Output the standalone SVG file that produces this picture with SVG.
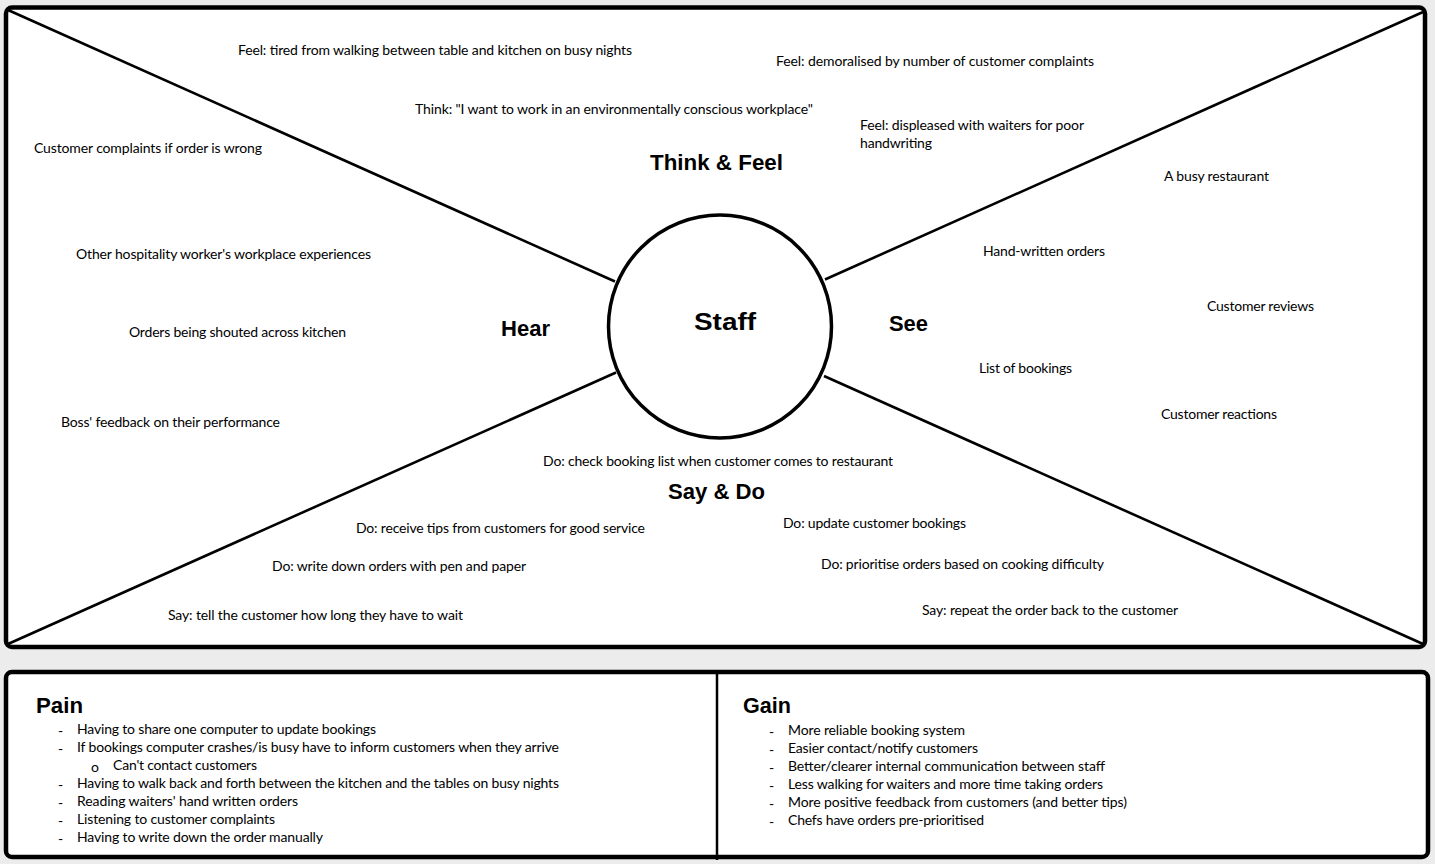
<svg xmlns="http://www.w3.org/2000/svg" width="1435" height="864" viewBox="0 0 1435 864">
  <style>
    .panel { fill: #ffffff; stroke: #000000; stroke-width: 4.5; }
    .spoke { stroke: #000000; stroke-width: 2.6; fill: none; }
    .hub { fill: #ffffff; stroke: #000000; stroke-width: 3.5; }
    .note { font-family: Lato, "Open Sans", sans-serif; font-size: 14px; fill: #000000; }
    .head { font-family: "Liberation Sans", Arial, sans-serif; font-size: 22px; font-weight: bold; fill: #000000; }
    .hubtitle { font-family: "Liberation Sans", Arial, sans-serif; font-size: 24px; font-weight: bold; fill: #000000; }
    .dash { font-family: Lato, sans-serif; font-size: 14px; fill: #000000; }
  </style>

  <!-- page background -->
  <rect x="0" y="0" width="1435" height="864" fill="#ececec"/>

  <!-- empathy map frame -->
  <g id="map-frame">
    <rect class="panel" x="6" y="7.5" width="1419" height="639.5" rx="6" ry="6"/>
  </g>

  <!-- spokes from the corners to the hub -->
  <g id="connectors">
    <line class="spoke" x1="8" y1="10" x2="615" y2="281.5"/>
    <line class="spoke" x1="1423" y1="12" x2="825" y2="279.5"/>
    <line class="spoke" x1="8" y1="644" x2="616" y2="372.5"/>
    <line class="spoke" x1="1423" y1="644" x2="824" y2="376"/>
  </g>

  <!-- hub -->
  <g id="staff">
    <circle class="hub" cx="720" cy="326.5" r="111.5"/>
    <text class="hubtitle" x="694" y="329.5" textLength="62" lengthAdjust="spacingAndGlyphs">Staff</text>
  </g>

  <!-- Think & Feel quadrant -->
  <g id="think-feel">
    <text class="head" x="650" y="170" textLength="133" lengthAdjust="spacingAndGlyphs">Think &amp; Feel</text>
    <text class="note" x="238" y="55" textLength="394">Feel: tired from walking between table and kitchen on busy nights</text>
    <text class="note" x="776" y="66" textLength="318">Feel: demoralised by number of customer complaints</text>
    <text class="note" x="415" y="114" textLength="398">Think: "I want to work in an environmentally conscious workplace"</text>
    <text class="note" x="860" y="130" textLength="224">Feel: displeased with waiters for poor</text>
    <text class="note" x="860" y="148" textLength="72">handwriting</text>
  </g>

  <!-- Hear quadrant -->
  <g id="hear">
    <text class="head" x="501" y="336" textLength="49" lengthAdjust="spacingAndGlyphs">Hear</text>
    <text class="note" x="34" y="153" textLength="228">Customer complaints if order is wrong</text>
    <text class="note" x="76" y="259" textLength="295">Other hospitality worker's workplace experiences</text>
    <text class="note" x="129" y="337" textLength="217">Orders being shouted across kitchen</text>
    <text class="note" x="61" y="427" textLength="219">Boss' feedback on their performance</text>
  </g>

  <!-- See quadrant -->
  <g id="see">
    <text class="head" x="889" y="331" textLength="39" lengthAdjust="spacingAndGlyphs">See</text>
    <text class="note" x="1164" y="181" textLength="105">A busy restaurant</text>
    <text class="note" x="983" y="256" textLength="122">Hand-written orders</text>
    <text class="note" x="1207" y="311" textLength="107">Customer reviews</text>
    <text class="note" x="979" y="373" textLength="93">List of bookings</text>
    <text class="note" x="1161" y="419" textLength="116">Customer reactions</text>
  </g>

  <!-- Say & Do quadrant -->
  <g id="say-do">
    <text class="head" x="668" y="499" textLength="97" lengthAdjust="spacingAndGlyphs">Say &amp; Do</text>
    <text class="note" x="543" y="466" textLength="350">Do: check booking list when customer comes to restaurant</text>
    <text class="note" x="356" y="533" textLength="289">Do: receive tips from customers for good service</text>
    <text class="note" x="783" y="528" textLength="183">Do: update customer bookings</text>
    <text class="note" x="272" y="571" textLength="254">Do: write down orders with pen and paper</text>
    <text class="note" x="821" y="569" textLength="283">Do: prioritise orders based on cooking difficulty</text>
    <text class="note" x="168" y="620" textLength="295">Say: tell the customer how long they have to wait</text>
    <text class="note" x="922" y="615" textLength="256">Say: repeat the order back to the customer</text>
  </g>

  <!-- Pain / Gain table -->
  <g id="pain-gain-frame">
    <rect class="panel" x="6" y="672" width="1422" height="185" rx="6" ry="6"/>
    <line x1="717" y1="672" x2="717" y2="860" stroke="#000000" stroke-width="2.5"/>
  </g>

  <g id="pain">
    <text class="head" x="36" y="713" textLength="47" lengthAdjust="spacingAndGlyphs">Pain</text>
    <g class="dash">
      <text x="58" y="736">-</text>
      <text x="58" y="754">-</text>
      <text x="91" y="772">o</text>
      <text x="58" y="790">-</text>
      <text x="58" y="808">-</text>
      <text x="58" y="826">-</text>
      <text x="58" y="844">-</text>
    </g>
    <text class="note" x="77" y="734" textLength="299">Having to share one computer to update bookings</text>
    <text class="note" x="77" y="752" textLength="482">If bookings computer crashes/is busy have to inform customers when they arrive</text>
    <text class="note" x="113" y="770" textLength="144">Can't contact customers</text>
    <text class="note" x="77" y="788" textLength="482">Having to walk back and forth between the kitchen and the tables on busy nights</text>
    <text class="note" x="77" y="806" textLength="221">Reading waiters' hand written orders</text>
    <text class="note" x="77" y="824" textLength="198">Listening to customer complaints</text>
    <text class="note" x="77" y="842" textLength="246">Having to write down the order manually</text>
  </g>

  <g id="gain">
    <text class="head" x="743" y="713" textLength="48" lengthAdjust="spacingAndGlyphs">Gain</text>
    <g class="dash">
      <text x="769" y="737">-</text>
      <text x="769" y="755">-</text>
      <text x="769" y="773">-</text>
      <text x="769" y="791">-</text>
      <text x="769" y="809">-</text>
      <text x="769" y="827">-</text>
    </g>
    <text class="note" x="788" y="735" textLength="177">More reliable booking system</text>
    <text class="note" x="788" y="753" textLength="190">Easier contact/notify customers</text>
    <text class="note" x="788" y="771" textLength="317">Better/clearer internal communication between staff</text>
    <text class="note" x="788" y="789" textLength="315">Less walking for waiters and more time taking orders</text>
    <text class="note" x="788" y="807" textLength="339">More positive feedback from customers (and better tips)</text>
    <text class="note" x="788" y="825" textLength="196">Chefs have orders pre-prioritised</text>
  </g>
</svg>
